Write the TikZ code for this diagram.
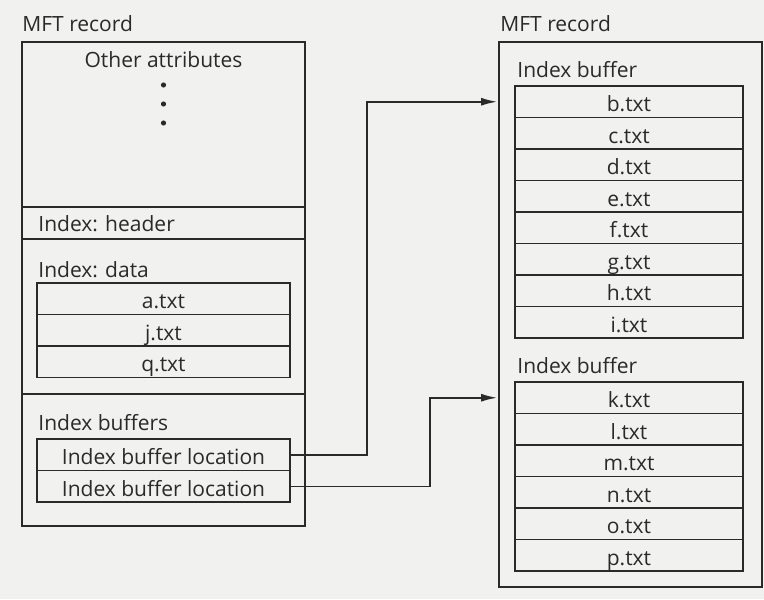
\documentclass[tikz,border=0pt]{standalone}
\usepackage{fontspec}
\setmainfont{Open Sans}
\usepackage{xcolor}
\usetikzlibrary{arrows.meta, positioning, calc}
\definecolor{paper}{HTML}{F1F1EF}
\definecolor{ink}{HTML}{2A2A2A}
\tikzstyle{recbox} = [rectangle, draw=ink, line width=0.75pt, minimum width=141.5pt,
  inner sep=0pt, outer sep=0pt]
\tikzstyle{rowbox} = [rectangle, draw=ink, line width=0.75pt, minimum width=126.5pt, minimum height=15.75pt,
  inner sep=0pt, outer sep=0pt, text height=12.75pt, text depth=3pt, text=ink]
\tikzstyle{lbl} = [inner sep=0pt, anchor=base west, text=ink]
\tikzstyle{arrow} = [line width=0.75pt, draw=ink, -{Latex[length=8pt, width=4pt]}, shorten >=1pt]

\begin{document}
\begin{tikzpicture}[x=0.5pt, y=-0.5pt, font=\fontsize{10.5}{12.5}\selectfont]
  \fill[paper] (0,0) rectangle (764,599);
  \useasboundingbox (0,0) rectangle (764,599);

  % left MFT record
  \node (other) [recbox, minimum height=82.5pt, anchor=north west] at (22,42) {};
  \node (header) [recbox, minimum height=16pt, below=0pt of other] {};
  \node (data) [recbox, minimum height=77.5pt, below=0pt of header] {};
  \node (bufs) [recbox, minimum height=66pt, below=0pt of data] {};

  \node (mft1) [lbl] at ($(other.north west)+(0pt,5pt)$) {MFT record};
  \node (othertxt) [lbl, anchor=base] at ($(other.north)+(0pt,-13pt)$) {Other attributes};
  \foreach \y in {85,104,123}
    \fill[ink] (163.5,\y) circle (1.3pt);
  \node (headertxt) [lbl] at ($(header.south west)+(8pt,3.75pt)$) {Index: header};

  \node (a) [rowbox, anchor=north west] at ($(data.north west)+(7.5pt,-22pt)$) {a.txt};
  \node (j) [rowbox, below=0pt of a] {j.txt};
  \node (q) [rowbox, below=0pt of j] {q.txt};
  \node (datatxt) [lbl] at ($(a.north west)+(0.5pt,3pt)$) {Index: data};

  \node (loc1) [rowbox, anchor=north west] at ($(bufs.north west)+(7.5pt,-22.5pt)$) {Index buffer location};
  \node (loc2) [rowbox, below=0pt of loc1] {Index buffer location};
  \node (bufstxt) [lbl] at ($(loc1.north west)+(0.5pt,4.5pt)$) {Index buffers};

  % right MFT record
  \node (rec2) [recbox, minimum width=131.5pt, minimum height=272.5pt, anchor=north west] at (499,42) {};
  \node (mft2) [lbl] at ($(rec2.north west)+(0.5pt,5pt)$) {MFT record};

  \foreach \f [count=\i] in {b,c,d,e,f,g,h,i}
    \node (\f) [rowbox, minimum width=114pt, anchor=north west]
      at ($(rec2.north west)+(8pt,-6.25pt-\i*15.75pt)$) {\f.txt};
  \foreach \f [count=\i] in {k,l,m,n,o,p}
    \node (\f) [rowbox, minimum width=114pt, anchor=north west]
      at ($(rec2.north west)+(8pt,-154.25pt-\i*15.75pt)$) {\f.txt};
  \node (buf1txt) [lbl] at ($(b.north west)+(1pt,4.5pt)$) {Index buffer};
  \node (buf2txt) [lbl] at ($(k.north west)+(1pt,4.5pt)$) {Index buffer};

  % pointers to the index buffers
  \coordinate (bend1) at (367,0);
  \coordinate (bend2) at (430,0);
  \draw[arrow] (loc1.east) -- (loc1.east -| bend1) -- (bend1 |- b.west) -- (b.west -| rec2.west);
  \draw[arrow] (loc2.east) -- (loc2.east -| bend2) -- (bend2 |- k.west) -- (k.west -| rec2.west);
\end{tikzpicture}
\end{document}
